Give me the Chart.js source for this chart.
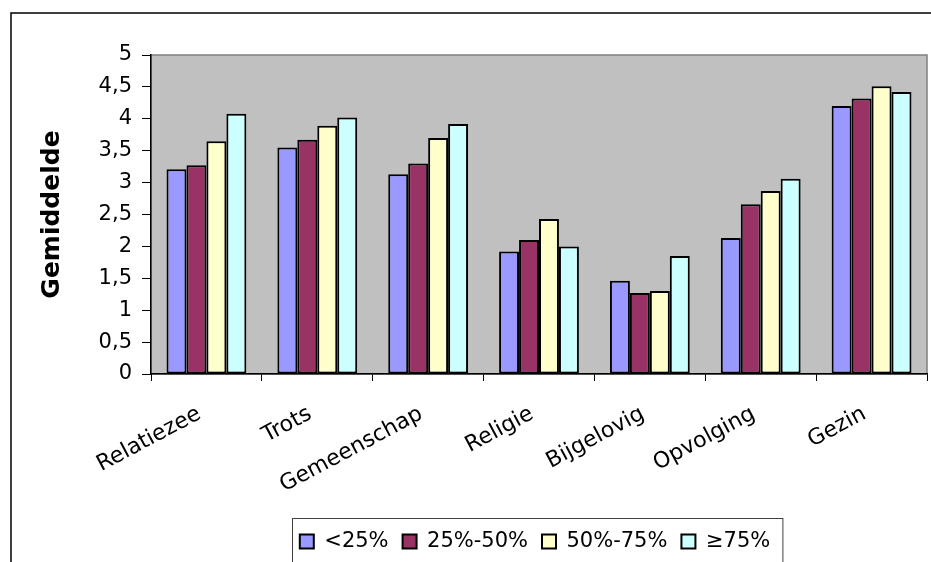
<!DOCTYPE html>
<html><head><meta charset="utf-8">
<script src="https://cdn.jsdelivr.net/npm/chart.js@4.4.0/dist/chart.umd.min.js"></script>
<style>html,body{margin:0;padding:0;background:#fff;overflow:hidden}</style>
</head><body>
<canvas id="c" width="931" height="562"></canvas>
<script>
const categories = ['Relatiezee','Trots','Gemeenschap','Religie','Bijgelovig','Opvolging','Gezin'];
const seriesNames = ['<25%','25%-50%','50%-75%','\u226575%'];
const under25    = [3.21,3.55,3.13,1.92,1.46,2.13,4.20];
const from25to50 = [3.27,3.67,3.30,2.10,1.27,2.66,4.32];
const from50to75 = [3.65,3.89,3.70,2.43,1.30,2.87,4.51];
const over75     = [4.08,4.02,3.92,2.00,1.85,3.06,4.42];
const yTickLabels = ['0','0,5','1','1,5','2','2,5','3','3,5','4','4,5','5'];
const yAxisTitle = 'Gemiddelde';

const colors = ['#9999FF','#993366','#FFFFCC','#CCFFFF'];
const seriesValues = [under25, from25to50, from50to75, over75];
const FONT = 'DejaVu Sans';

const decor = {
  id: 'decor',
  beforeDraw(chart) {
    const {ctx, chartArea: a} = chart;
    ctx.save();
    ctx.fillStyle = '#fff';
    ctx.fillRect(0, 0, chart.width, chart.height);
    ctx.fillStyle = '#C0C0C0';
    ctx.fillRect(a.left, a.top, a.right - a.left, a.bottom - a.top);
    ctx.strokeStyle = '#808080';
    ctx.lineWidth = 1.5;
    ctx.strokeRect(a.left, a.top, a.right - a.left, a.bottom - a.top);
    ctx.strokeStyle = '#000';
    ctx.lineWidth = 1.5;
    ctx.strokeRect(11, 13, chart.width + 20, chart.height + 20);
    ctx.restore();
  },
  afterLayout(chart) {
    const lg = chart.legend;
    lg.left = 139;
    lg.right = chart.width;
  },
  afterDraw(chart) {
    const hb = chart.legend.legendHitBoxes;
    if (!hb || !hb.length) return;
    const last = hb[hb.length - 1];
    const x1 = hb[0].left - 8;
    const x2 = last.left + last.width + 12;
    const cy = hb[0].top + hb[0].height / 2;
    const ctx = chart.ctx;
    ctx.save();
    ctx.strokeStyle = '#404040';
    ctx.lineWidth = 1;
    ctx.strokeRect(Math.round(x1) + 0.5, Math.round(cy - 24) + 0.5, x2 - x1, 80);
    ctx.restore();
  }
};

new Chart(document.getElementById('c'), {
  type: 'bar',
  data: {
    labels: categories,
    datasets: seriesNames.map((name, i) => ({
      label: name,
      data: seriesValues[i],
      backgroundColor: colors[i],
      borderColor: '#000',
      borderWidth: 2,
      borderSkipped: false,
      categoryPercentage: 0.72,
      barPercentage: 1.0
    }))
  },
  options: {
    responsive: false,
    animation: false,
    events: [],
    layout: { padding: { top: 55, right: 4, bottom: 0, left: 0 } },
    plugins: {
      tooltip: { enabled: false },
      legend: {
        position: 'bottom',
        align: 'center',
        labels: {
          font: { family: FONT, size: 21 },
          color: '#000',
          boxWidth: 14,
          boxHeight: 14,
          padding: 14
        }
      }
    },
    scales: {
      x: {
        grid: { display: true, drawOnChartArea: false, drawTicks: true, tickLength: 7, color: '#000', offset: true },
        border: { display: true, color: '#000', width: 1.5 },
        ticks: {
          font: { family: FONT, size: 22 },
          color: '#000',
          minRotation: 28,
          maxRotation: 28,
          padding: 20,
          labelOffset: -7,
          autoSkip: false
        },
        afterFit(scale) { scale.height = 143; }
      },
      y: {
        min: 0,
        max: 5,
        grid: { display: true, drawOnChartArea: false, drawTicks: true, tickLength: 9, color: '#000' },
        border: { display: true, color: '#000', width: 1.5 },
        ticks: {
          stepSize: 0.5,
          font: { family: FONT, size: 21 },
          color: '#000',
          padding: 10,
          callback: (v) => yTickLabels[Math.round(v * 2)]
        },
        title: {
          display: true,
          text: yAxisTitle,
          font: { family: FONT, size: 25, weight: 'bold' },
          color: '#000',
          padding: { top: 37, bottom: 0 }
        },
        afterFit(scale) { scale.width = 151; }
      }
    }
  },
  plugins: [decor]
});
</script>
</body></html>
